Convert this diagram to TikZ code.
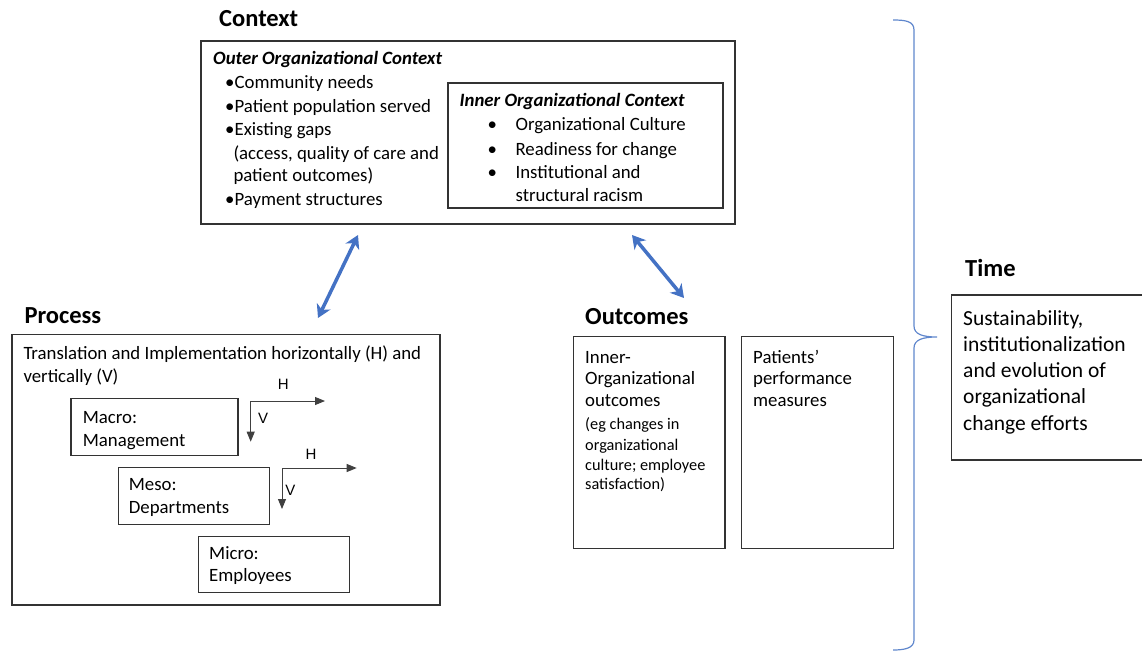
\documentclass[tikz,border=0pt]{standalone}
\usepackage{fontspec}
\setmainfont{Carlito}
\newfontfamily\hvfont{Liberation Sans}
\usetikzlibrary{arrows.meta}
\definecolor{linkblue}{RGB}{68,114,196}

\begin{document}
\begin{tikzpicture}[x=1pt, y=-1pt,
    box/.style={draw=black!80, line width=1.3pt, anchor=north west, inner sep=0pt, outer sep=0pt},
    txt/.style={anchor=base west, inner sep=0pt, font=\fontsize{18.8}{23}\selectfont},
    small/.style={txt, font=\fontsize{16.3}{20}\selectfont},
    big/.style={txt, font=\fontsize{21.5}{26}\selectfont},
    head/.style={txt, font=\fontsize{24.5}{29}\selectfont\bfseries},
    title/.style={txt, font=\fontsize{18.8}{23}\selectfont\bfseries\itshape},
    hv/.style={draw=black!75, line width=0.9pt, -{Triangle[length=10pt, width=8pt]}},
    hvlabel/.style={inner sep=0pt, font=\hvfont\fontsize{15}{17}\selectfont},
    link/.style={draw=linkblue, line width=3.5pt, {Stealth[length=13pt, width=15pt, inset=4pt]}-{Stealth[length=13pt, width=15pt, inset=4pt]}},
    brace/.style={draw=linkblue!85, line width=1.2pt},
  ]
    \useasboundingbox (0,0) rectangle (1142,653);

    \node[head] (ctxhead) at (219,26.7) {Context};
    \node[box, minimum width=534pt, minimum height=183pt] (ctx) at (201,41) {};
    \node[title] (outerhead) at (213,64) {Outer Organizational Context};
    \foreach \y/\t [count=\i] in {88.3/Community needs, 112.7/Patient population served, 135.7/Existing gaps, 205.7/Payment structures} {
        \node[txt] (ob\i) at (225,\y) {\textbullet};
        \node[txt] (ot\i) at (234.4,\y) {\t};
    }
    \node[txt] (ot5) at (233.3,159) {(access, quality of care and};
    \node[txt] (ot6) at (233.3,181.7) {patient outcomes)};

    \node[box, minimum width=275pt, minimum height=125pt] (inner) at (448,83) {};
    \node[title] (innerhead) at (459.4,106.7) {Inner Organizational Context};
    \foreach \y/\t [count=\i] in {130.7/Organizational Culture, 155/Readiness for change, 178.3/Institutional and} {
        \node[txt] (ib\i) at (487.5,\y) {\textbullet};
        \node[txt] (it\i) at (515.4,\y) {\t};
    }
    \node[txt] (it4) at (515.4,201.7) {structural racism};

    \node[head] (prochead) at (24.3,323.3) {Process};
    \node[box, minimum width=428pt, minimum height=270.7pt] (proc) at (12,334.3) {};
    \node[txt] (pt1) at (23.3,359) {Translation and Implementation horizontally (H) and};
    \node[txt] (pt2) at (23.3,382.3) {vertically (V)};

    \node[box, minimum width=167pt, minimum height=57.4pt] (macro) at (71,398.3) {};
    \node[txt] (macro1) at (82.7,423.3) {Macro:};
    \node[txt] (macro2) at (82.7,446.7) {Management};
    \node[box, minimum width=150.6pt, minimum height=56.6pt] (meso) at (118.7,467.7) {};
    \node[txt] (meso1) at (128.7,490) {Meso:};
    \node[txt] (meso2) at (128.7,513.3) {Departments};
    \node[box, minimum width=151pt, minimum height=56.4pt] (micro) at (198.7,536.3) {};
    \node[txt] (micro1) at (209,559.3) {Micro:};
    \node[txt] (micro2) at (209,581.7) {Employees};

    \coordinate (hv1) at (250.7,401);
    \draw[hv] (hv1) -- ++(74.3,0);
    \draw[hv] (hv1) -- ++(0,40.7);
    \node[hvlabel] (h1) at (283.3,384.3) {H};
    \node[hvlabel] (v1) at (263,418.3) {V};
    \coordinate (hv2) at (282,468);
    \draw[hv] (hv2) -- ++(74.7,0);
    \draw[hv] (hv2) -- ++(0,41);
    \node[hvlabel] (h2) at (311,454.3) {H};
    \node[hvlabel] (v2) at (290.3,490) {V};

    \node[head] (outhead) at (585,324) {Outcomes};
    \node[box, minimum width=151.7pt, minimum height=211.6pt] (inout) at (573.3,336.7) {};
    \foreach \y/\t [count=\i] in {363.3/Inner-, 384.3/Organizational, 406/outcomes}
        \node[txt] (io\i) at (585,\y) {\t};
    \foreach \y/\t [count=\i] in {429/(eg changes in, 450/organizational, 470/culture; employee, 489.3/satisfaction)}
        \node[small] (is\i) at (585,\y) {\t};
    \node[box, minimum width=151.6pt, minimum height=211.6pt] (patout) at (741.7,336.7) {};
    \foreach \y/\t [count=\i] in {363.3/Patients’, 384.3/performance, 406/measures}
        \node[txt] (po\i) at (753,\y) {\t};

    \coordinate (pa) at (318,318);
    \coordinate (ca) at (358,235);
    \draw[link] (pa) -- (ca);
    \coordinate (cb) at (632,235);
    \coordinate (oa) at (684,298);
    \draw[link] (cb) -- (oa);

    \draw[brace] (893,20) .. controls (905,20) and (914,21) .. (914,30) -- (914,326) .. controls (914,334) and (922,337) .. (937,337) .. controls (922,337) and (914,340) .. (914,348) -- (914,640) .. controls (914,648) and (905,650) .. (893,650);

    \node[head] (timehead) at (965,276.7) {Time};
    \node[box, minimum width=200pt, minimum height=165pt] (time) at (951.7,295) {};
    \foreach \t [count=\i] in {Sustainability{,}, institutionalization, and evolution of, organizational, change efforts}
        \node[big] (tt\i) at (963,298.7+26.3*\i) {\t};
\end{tikzpicture}
\end{document}
